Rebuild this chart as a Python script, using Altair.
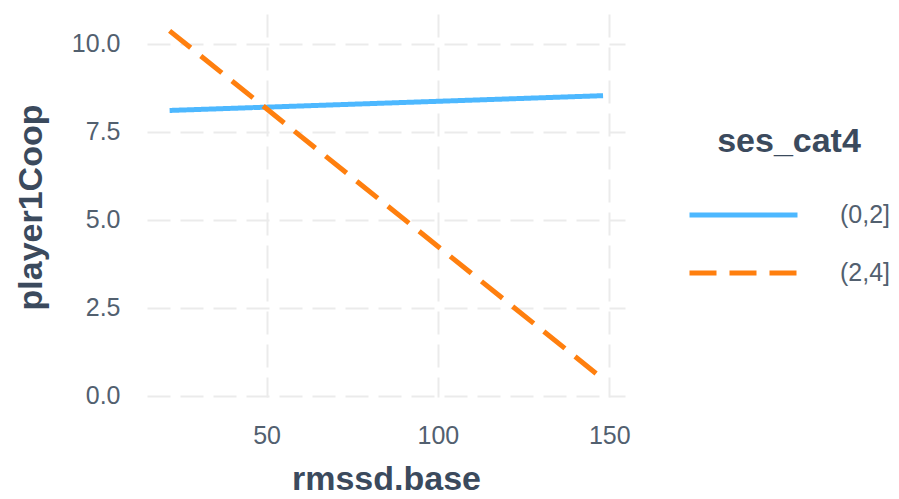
import altair as alt
import pandas as pd

# data
ses_cat4 = ["(0,2]", "(0,2]", "(2,4]", "(2,4]"]
rmssd_base = [21.7, 148.2, 21.7, 148.2]
player1_coop = [8.10, 8.52, 10.36, 0.47]

categories = ["(0,2]", "(2,4]"]
line_colors = ["#4DB8FF", "#FF7F0E"]
line_dashes = [[1, 0], [27, 13]]

x_ticks = [50, 100, 150]
y_ticks = [0.0, 2.5, 5.0, 7.5, 10.0]

df = pd.DataFrame({"rmssd_base": rmssd_base, "player1Coop": player1_coop, "ses_cat4": ses_cat4})

FONT = "Liberation Sans"
TITLE_COLOR = "#3b4a5d"
LABEL_COLOR = "#52606f"

chart = (
    alt.Chart(df)
    .mark_line(strokeWidth=5, strokeCap="butt")
    .encode(
        x=alt.X(
            "rmssd_base:Q",
            title="rmssd.base",
            scale=alt.Scale(domain=[15.1, 154.6], nice=False, zero=False),
            axis=alt.Axis(values=x_ticks, labelPadding=26, titleY=92, titleBaseline="alphabetic"),
        ),
        y=alt.Y(
            "player1Coop:Q",
            title="player1Coop",
            scale=alt.Scale(domain=[-0.04, 10.84], nice=False, zero=False),
            axis=alt.Axis(values=y_ticks, format=".1f", labelPadding=27,
                          titleX=-116, titleY=193, titleBaseline="middle", titleAlign="center"),
        ),
        color=alt.Color("ses_cat4:N", scale=alt.Scale(domain=categories, range=line_colors), title="ses_cat4"),
        strokeDash=alt.StrokeDash("ses_cat4:N", scale=alt.Scale(domain=categories, range=line_dashes), title="ses_cat4"),
        detail="ses_cat4:N",
    )
    .properties(
        width=478,
        height=383,
        autosize=alt.AutoSizeParams(type="none"),
        padding={"left": 139, "top": 6, "right": 266, "bottom": 94},
    )
    .configure_view(stroke=None)
    .configure_axis(
        domain=False,
        ticks=False,
        tickSize=0,
        grid=True,
        gridColor="#ebebeb",
        gridWidth=2,
        gridDash=[23, 10],
        labelFont=FONT,
        labelFontSize=25,
        labelColor=LABEL_COLOR,
        titleFont=FONT,
        titleFontSize=34,
        titleFontWeight="bold",
        titleColor=TITLE_COLOR,
    )
    .configure_legend(
        orient="none",
        legendX=540,
        legendY=111,
        padding=0,
        titleFont=FONT,
        titleFontSize=34,
        titleFontWeight="bold",
        titleColor=TITLE_COLOR,
        titleAnchor="middle",
        titlePadding=41,
        symbolType="stroke",
        symbolSize=11664,
        symbolStrokeWidth=5,
        clipHeight=30,
        labelFont=FONT,
        labelFontSize=25,
        labelColor=LABEL_COLOR,
        labelOffset=40,
        rowPadding=28,
    )
)

chart.save("out.html", embed_options={"renderer": "svg", "actions": False})
